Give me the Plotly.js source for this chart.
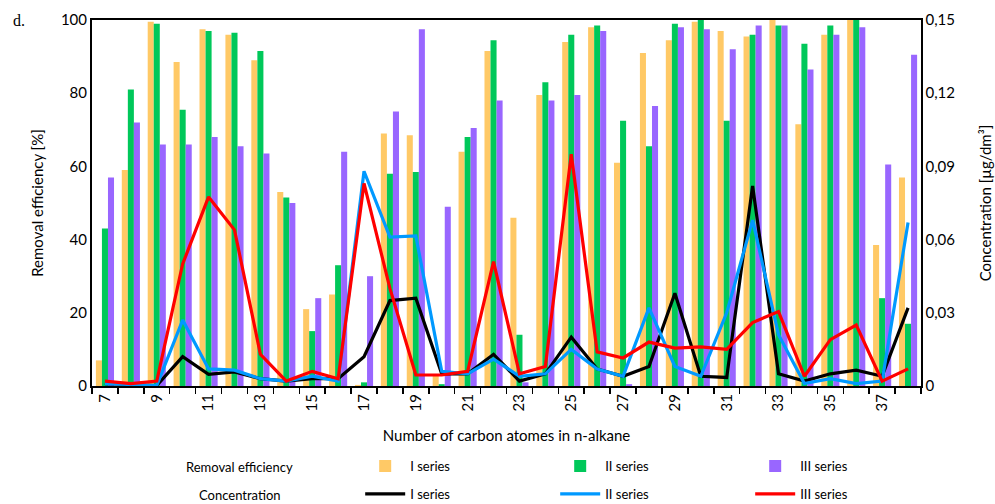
<!DOCTYPE html>
<html>
<head>
<meta charset="utf-8">
<script src="https://cdn.plot.ly/plotly-3.0.1.min.js"></script>
<style>html,body{margin:0;padding:0;background:#fff;}#chart{width:995px;height:504px;}</style>
</head>
<body>
<div id="chart"></div>
<script>
const carbons = [7,8,9,10,11,12,13,14,15,16,17,18,19,20,21,22,23,24,25,26,27,28,29,30,31,32,33,34,35,36,37,38];

const effI   = [7,59,99.5,88.5,97.5,96,89,53,21,25,0.3,69,68.5,3,64,91.5,46,79.5,94,98,61,91,94.5,99.5,97,95.5,100,71.5,96,100,38.5,57];
const effII  = [43,81,99,75.5,97,96.5,91.5,51.5,15,33,1,58,58.5,0.5,68,94.5,14,83,96,98.5,72.5,65.5,99,100,72.5,96,98.5,93.5,98.5,100,24,17];
const effIII = [57,72,66,66,68,65.5,63.5,50,24,64,30,75,97.5,49,70.5,78,1,78,79.5,97,0.5,76.5,98,97.5,92,98.5,98.5,86.5,96,98,60.5,90.5];

const concI   = [0.001,0.0005,0.0002,0.012,0.0048,0.0058,0.003,0.002,0.003,0.003,0.012,0.035,0.036,0.005,0.005,0.013,0.002,0.005,0.020,0.007,0.004,0.008,0.038,0.004,0.0035,0.082,0.005,0.002,0.005,0.0065,0.004,0.032];
const concII  = [0.001,0.0005,0.0002,0.027,0.007,0.0065,0.003,0.002,0.004,0.002,0.088,0.061,0.0615,0.006,0.005,0.011,0.004,0.005,0.015,0.007,0.004,0.032,0.008,0.004,0.030,0.068,0.021,0.001,0.003,0.001,0.002,0.067];
const concIII = [0.002,0.001,0.002,0.050,0.0775,0.064,0.013,0.002,0.006,0.003,0.083,0.040,0.0045,0.0045,0.006,0.051,0.005,0.008,0.095,0.014,0.0115,0.018,0.0155,0.016,0.015,0.026,0.0305,0.004,0.019,0.025,0.002,0.007];

const xTickVals = [7,9,11,13,15,17,19,21,23,25,27,29,31,33,35,37];
const y2TickVals = [0,0.03,0.06,0.09,0.12,0.15];
const y2TickText = ['0','0,03','0,06','0,09','0,12','0,15'];

const FONT = 'Lato, "Open Sans", sans-serif';
const barColors = ['#FFC966','#00C85A','#9966FF'];
const lineColors = ['#000000','#0099FF','#FF0000'];

const traces = [
  {type:'bar', x:carbons, y:effI, name:'I series', marker:{color:barColors[0]}, legend:'legend'},
  {type:'bar', x:carbons, y:effII, name:'II series', marker:{color:barColors[1]}, legend:'legend'},
  {type:'bar', x:carbons, y:effIII, name:'III series', marker:{color:barColors[2]}, legend:'legend'},
  {type:'scatter', mode:'lines', x:carbons, y:concI, yaxis:'y2', name:'I series', line:{color:lineColors[0], width:3.2}, legend:'legend2'},
  {type:'scatter', mode:'lines', x:carbons, y:concII, yaxis:'y2', name:'II series', line:{color:lineColors[1], width:3.2}, legend:'legend2'},
  {type:'scatter', mode:'lines', x:carbons, y:concIII, yaxis:'y2', name:'III series', line:{color:lineColors[2], width:3.2}, legend:'legend2'}
];

const minorVals = [];
for (let i = 0; i <= carbons.length; i++) minorVals.push(carbons[0] - 0.5 + i);

const layout = {
  width:995, height:504,
  margin:{l:92, r:74, t:20, b:118},
  paper_bgcolor:'#fff', plot_bgcolor:'#fff',
  font:{family:FONT, size:15, color:'#000'},
  barmode:'group', bargap:0.3, bargroupgap:0,
  showlegend:true,
  xaxis:{
    range:[6.5,38.5], tickmode:'array', tickvals:xTickVals, tickangle:-90,
    ticks:'', showgrid:false, zeroline:false,
    showline:true, linecolor:'#000', linewidth:2, mirror:true,
    tickfont:{size:15},
    minor:{tickmode:'array', tickvals:minorVals, ticks:'outside', ticklen:6, tickcolor:'#000', tickwidth:1.5, showgrid:false},
    title:{text:'Number of carbon atomes in n-alkane', font:{size:15}, standoff:20}
  },
  yaxis:{
    range:[0,100], tickvals:[0,20,40,60,80,100], showgrid:false, zeroline:false,
    showline:true, linecolor:'#000', linewidth:2, ticks:'', tickfont:{size:15},
    title:{text:'Removal efficiency [%]', font:{size:15}, standoff:14}
  },
  yaxis2:{
    overlaying:'y', side:'right', range:[0,0.15], tickmode:'array', tickvals:y2TickVals, ticktext:y2TickText,
    showgrid:false, zeroline:false, showline:true, linecolor:'#000', linewidth:1.5, ticks:'',
    tickfont:{size:15},
    title:{text:'Concentration [µg/dm³]', font:{size:15}, standoff:26}
  },
  legend:{
    orientation:'h', xref:'container', yref:'container', x:0.362, y:0.0754, xanchor:'left', yanchor:'middle',
    entrywidth:140, entrywidthmode:'pixels', itemwidth:40, font:{size:13}, bgcolor:'rgba(0,0,0,0)', traceorder:'normal'
  },
  legend2:{
    orientation:'h', xref:'container', yref:'container', x:0.362, y:0.02, xanchor:'left', yanchor:'middle',
    entrywidth:140, entrywidthmode:'pixels', itemwidth:40, font:{size:13}, bgcolor:'rgba(0,0,0,0)', traceorder:'normal'
  },
  annotations:[
    {text:'d.', xref:'paper', yref:'paper', x:-0.098, y:1.0, xanchor:'left', yanchor:'middle', showarrow:false,
     font:{family:'"Liberation Serif", "DejaVu Serif", serif', size:16}},
    {text:'Removal efficiency', xref:'paper', yref:'paper', x:0.178, y:-0.222, xanchor:'center', yanchor:'middle', showarrow:false, font:{size:13}},
    {text:'Concentration', xref:'paper', yref:'paper', x:0.178, y:-0.298, xanchor:'center', yanchor:'middle', showarrow:false, font:{size:13}}
  ]
};

Plotly.newPlot('chart', traces, layout, {displayModeBar:false, staticPlot:true});
</script>
</body>
</html>
